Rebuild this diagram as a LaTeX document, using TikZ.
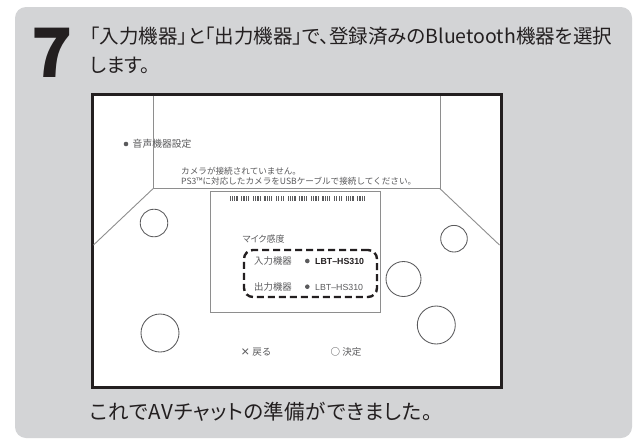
\documentclass[tikz,border=0pt]{standalone}
\usepackage{fontspec}
\newfontfamily\cjk{Noto Sans CJK JP}
\newfontfamily\cjkp[RawFeature=+palt]{Noto Sans CJK JP}
\newfontfamily\cjkpwide[RawFeature=+palt, LetterSpace=3]{Noto Sans CJK JP}
\newfontfamily\cjkheavy{Noto Sans CJK JP Black}
\newfontfamily\cjkbold{Noto Sans CJK JP Bold}
\newfontfamily\arial{Liberation Sans}
\definecolor{bggray}{HTML}{D3D4D6}
\definecolor{ink}{HTML}{231F20}
\definecolor{linegray}{HTML}{8E8E8E}
\definecolor{scrtext}{HTML}{5A5A5C}
\tikzset{
  scrline/.style={draw=linegray, line width=0.9pt},
  ring/.style={circle, draw=scrtext, line width=0.85pt, inner sep=0pt},
  bigtext/.style={inner sep=0pt, anchor=base west, text=ink, font=\cjkp\fontsize{19.5}{21}\selectfont},
  scrlabel/.style={inner sep=0pt, anchor=base west, text=scrtext},
  dot/.style={circle, fill=scrtext, inner sep=0pt, minimum size=4.6pt},
}
\begin{document}
\begin{tikzpicture}[x=1pt,y=-1pt]
\useasboundingbox (0,0) rectangle (635,445);
\fill[white] (0,0) rectangle (635,445);
\fill[bggray, rounded corners=11pt] (15,7) rectangle (632,438);

% step number and instructions
\node[inner sep=0pt, anchor=base west, text=ink, font=\cjkheavy\fontsize{68}{70}\selectfont] (num) at (31,77.5) {7};
\node[bigtext] (t1) at (90,43.4) {「入力機器」と「出力機器」で、登録済みのBluetooth機器を選択};
\node[bigtext] (t2) at (90,72.4) {します。};

% screen
\node[draw=ink, fill=white, line width=3pt, minimum width=409pt, minimum height=293pt, inner sep=0pt] (screen) at (296.5,240.5) {};
\draw[scrline] (153,95.5) -- (153,188.7) -- (440,188.7) -- (440,95.5);
\draw[scrline] (153,188.7) -- (93.5,245);
\draw[scrline] (440,188.7) -- (499.5,245);
\node[draw=linegray, line width=0.9pt, minimum width=170pt, minimum height=121pt, inner sep=0pt] (panel) at (295.7,252.2) {};

% top-left text
\node[dot] (d0) at (126,144) {};
\node[scrlabel, font=\cjk\fontsize{9.8}{10}\selectfont] (audio) at (132.5,147.5) {音声機器設定};
\node[scrlabel, font=\cjk\fontsize{8.6}{9}\selectfont] (msg1) at (181,174.5) {カメラが接続されていません。};
\node[scrlabel, font=\cjk\fontsize{8.6}{9}\selectfont] (msg2) at (181,184) {PS3™に対応したカメラをUSBケーブルで接続してください。};

% level bars
\foreach \g in {0,...,11}{
  \foreach \b in {0,...,3}{
    \fill[scrtext] ({229.5+\g*11.6+\b*2.3},195.5) rectangle +(1.25,5.5);
  }
}

\node[scrlabel, font=\cjkp\fontsize{9}{10}\selectfont] (mic) at (242.5,242.4) {マイク感度};
\node[draw=ink, line width=2.4pt, dash pattern=on 7pt off 4pt, rounded corners=9pt, minimum width=133pt, minimum height=47pt, inner sep=0pt] (sel) at (310.5,273.5) {};
\node[scrlabel, font=\cjk\fontsize{9.4}{10}\selectfont] (in) at (254,264.6) {入力機器};
\node[dot] (d1) at (307.3,261) {};
\node[inner sep=0pt, anchor=base west, text=ink, font=\arial\bfseries\fontsize{8.8}{10}\selectfont] (inval) at (315,264.3) {LBT–HS310};
\node[scrlabel, font=\cjk\fontsize{9.4}{10}\selectfont] (out) at (254,290.3) {出力機器};
\node[dot] (d2) at (307.3,286.7) {};
\node[scrlabel, font=\arial\fontsize{8.8}{10}\selectfont] (outval) at (315,290) {LBT–HS310};

% buttons
\node[ring, minimum size=27.6pt] (c1) at (154,223) {};
\node[ring, minimum size=26.6pt] (c2) at (454,238.7) {};
\node[ring, minimum size=35pt] (c3) at (403.5,279) {};
\node[ring, minimum size=38pt] (c4) at (436.3,325) {};
\node[ring, minimum size=38pt] (c5) at (160,333) {};

\node[scrlabel, font=\cjk\fontsize{9.5}{10}\selectfont] (back) at (240.5,355.5) {{\cjkbold ×} 戻る};
\node[scrlabel, font=\cjk\fontsize{9.5}{10}\selectfont] (ok) at (330.5,355.5) {{\cjkheavy ○} 決定};

% closing line
\node[bigtext, font=\cjkpwide\fontsize{20.5}{22}\selectfont] (t3) at (90,419.8) {これでAVチャットの準備ができました。};
\end{tikzpicture}
\end{document}
